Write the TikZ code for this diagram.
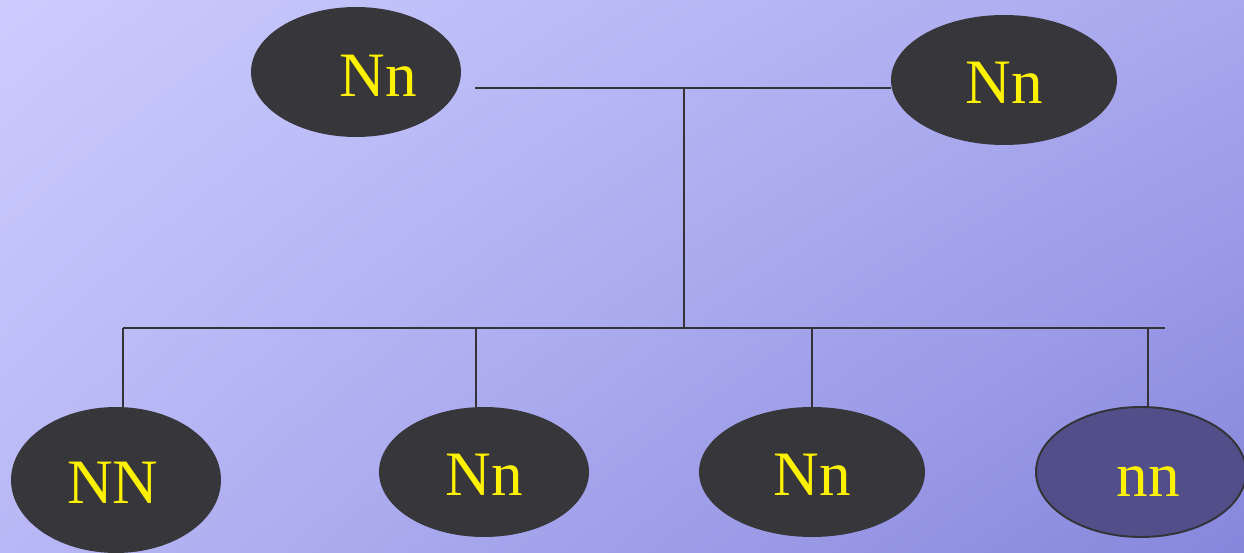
\documentclass[tikz,border=0pt]{standalone}
\usepackage{fontspec}
\setmainfont{Liberation Serif}
\usetikzlibrary{shapes.geometric}
\usetikzlibrary{shadings}

\definecolor{bgTL}{HTML}{CCCCFF}
\definecolor{bgTR}{HTML}{A8A8EE}
\definecolor{bgBL}{HTML}{B8B8F6}
\definecolor{bgBR}{HTML}{8686DC}
\definecolor{blobfill}{HTML}{37363B}
\definecolor{oddfill}{HTML}{524E8A}
\definecolor{wire}{HTML}{333338}

\begin{document}
\begin{tikzpicture}[x=0.02cm,y=-0.02cm,
    blob/.style={ellipse,fill=blobfill,inner sep=0pt,minimum height=2.6cm},
    geno/.style={text=yellow,anchor=base,inner sep=0pt,font=\fontsize{36}{40}\selectfont},
    wire/.style={draw=wire,line width=1.1pt}]
  % background
  \useasboundingbox (0,0) rectangle (1244,553);
  \shade[upper left=bgTL,upper right=bgTR,lower left=bgBL,lower right=bgBR]
    (0,0) rectangle (1244,553);

  % parents
  \node[blob,minimum width=4.2cm] (pa) at (356,72) {};
  \node[blob,minimum width=4.52cm] (pb) at (1004,80) {};
  \node[geno] (pa-t) at (378,97) {Nn};
  \node[geno] (pb-t) at (1004,104) {Nn};

  % children
  \node[blob,minimum width=4.2cm,minimum height=2.92cm] (ca) at (116,480) {};
  \node[blob,minimum width=4.2cm] (cb) at (484,472) {};
  \node[blob,minimum width=4.52cm] (cc) at (812,472) {};
  \node[blob,minimum width=4.2cm,fill=oddfill,draw=wire,line width=1.1pt] (cd) at (1141,472) {};
  \node[geno] (ca-t) at (113,504) {NN};
  \node[geno] (cb-t) at (484,496) {Nn};
  \node[geno] (cc-t) at (812,496) {Nn};
  \node[geno] (cd-t) at (1148,497) {nn};

  % mating line and descent
  \coordinate (m) at (475,88);
  \coordinate (j) at (684,88);
  \draw[wire] (m) -- (m -| pb.west);
  \coordinate (busL) at (123,328);
  \coordinate (busR) at (1165,328);
  \draw[wire] (j) -- (j |- busL);
  \draw[wire] (busL) -- (busR);

  % drops to the children
  \coordinate (db) at (476,328);
  \coordinate (dc) at (812,328);
  \coordinate (dd) at (1148,328);
  \draw[wire] (busL) -- (busL |- ca.north);
  \draw[wire] (db) -- (db |- cb.north);
  \draw[wire] (dc) -- (cc.north);
  \draw[wire] (dd) -- (dd |- cd.north);
\end{tikzpicture}
\end{document}
